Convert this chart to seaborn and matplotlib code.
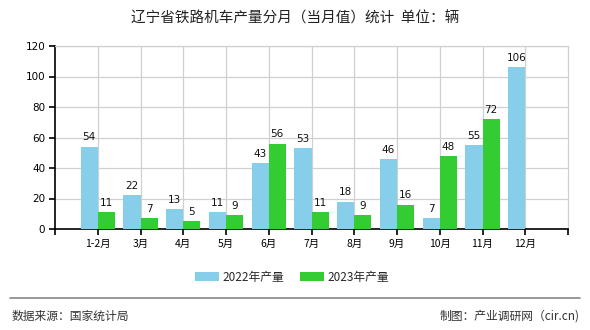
import numpy as np
import pandas as pd
import matplotlib
matplotlib.use("Agg")
import matplotlib.pyplot as plt
import seaborn as sns
from matplotlib.patches import Patch
from matplotlib.lines import Line2D
from matplotlib.transforms import blended_transform_factory

months = ["1-2月", "3月", "4月", "5月", "6月", "7月", "8月", "9月", "10月", "11月", "12月"]
output_2022 = [54, 22, 13, 11, 43, 53, 18, 46, 7, 55, 106]
output_2023 = [11, 7, 5, 9, 56, 11, 9, 16, 48, 72, np.nan]
series_names = ["2022年产量", "2023年产量"]
colors = ["#87CEEB", "#33CC33"]
y_ticks = [0, 20, 40, 60, 80, 100, 120]

df = pd.DataFrame({
    "月份": months * 2,
    "产量": output_2022 + output_2023,
    "系列": [series_names[0]] * len(months) + [series_names[1]] * len(months),
})

sns.set_theme(style="ticks")
plt.rcParams["font.family"] = ["Noto Sans CJK SC", "DejaVu Sans"]

fig = plt.figure(figsize=(5.9, 3.3), dpi=100)
ax = fig.add_axes([55 / 590, 1 - 229 / 330, (568 - 55) / 590, (229 - 46) / 330])

sns.barplot(data=df, x="月份", y="产量", hue="系列", palette=colors,
            order=months, hue_order=series_names, width=0.8,
            saturation=1, ax=ax, legend=False, zorder=3,
            linewidth=0, edgecolor="none")

# value labels above bars
for container in ax.containers:
    labels = ["" if np.isnan(v) else f"{int(v)}" for v in container.datavalues]
    ax.bar_label(container, labels=labels, padding=3, fontsize=7.5,
                 color="#111111", family=["DejaVu Sans"])

ax.set_xlim(-1, len(months))
ax.set_ylim(0, 120)
ax.set_yticks(y_ticks)
ax.set_yticklabels([str(t) for t in y_ticks], fontsize=7.5, family=["DejaVu Sans"])
ax.set_xticks(range(len(months)))
ax.set_xticklabels(months, fontsize=7.5)
ax.set_xlabel("")
ax.set_ylabel("")

# grid lines at category centres and y ticks
ax.grid(True, axis="both", color="#d0d0d0", linewidth=0.9)
ax.set_axisbelow(True)
ax.tick_params(axis="both", which="major", length=0, pad=7, labelcolor="black")
for side in ["top", "right"]:
    ax.spines[side].set_visible(True)
    ax.spines[side].set_color("#d0d0d0")
    ax.spines[side].set_linewidth(0.9)
for side in ["left", "bottom"]:
    ax.spines[side].set_color("black")
    ax.spines[side].set_linewidth(1.2)

# outward tick marks at the tick locations, plus the two ends of the x axis
x_marks = [ax.get_xlim()[0]] + list(ax.get_xticks()) + [ax.get_xlim()[1]]
ax.vlines(x_marks, -0.035, 0, transform=blended_transform_factory(ax.transData, ax.transAxes),
          colors="black", linewidth=1.2, clip_on=False, zorder=5)
ax.hlines(ax.get_yticks(), -0.012, 0, transform=blended_transform_factory(ax.transAxes, ax.transData),
          colors="black", linewidth=1.2, clip_on=False, zorder=5)
ax.set_xlim(-1, len(months))
ax.set_ylim(0, 120)

fig.text(0.5, 1 - 18 / 330, "辽宁省铁路机车产量分月（当月值）统计  单位：辆",
         ha="center", va="center", fontsize=10.5, color="#222222")

handles = [Patch(facecolor=c, edgecolor="none") for c in colors]
fig.legend(handles, series_names, loc="center", bbox_to_anchor=(292 / 590, 1 - 277 / 330),
           ncol=2, frameon=False, fontsize=8.5, handlelength=2.0, handleheight=0.9,
           columnspacing=1.4, handletextpad=0.3)

fig.add_artist(Line2D([10 / 590, 580 / 590], [1 - 298 / 330, 1 - 298 / 330],
                      color="#888888", linewidth=1.2, transform=fig.transFigure))
fig.text(12 / 590, 1 - 316 / 330, "数据来源：国家统计局", ha="left", va="center",
         fontsize=8.5, color="#333333")
fig.text(580 / 590, 1 - 316 / 330, "制图：产业调研网（cir.cn)", ha="right", va="center",
         fontsize=8.5, color="#333333")

fig.savefig("out.png", dpi=100)
